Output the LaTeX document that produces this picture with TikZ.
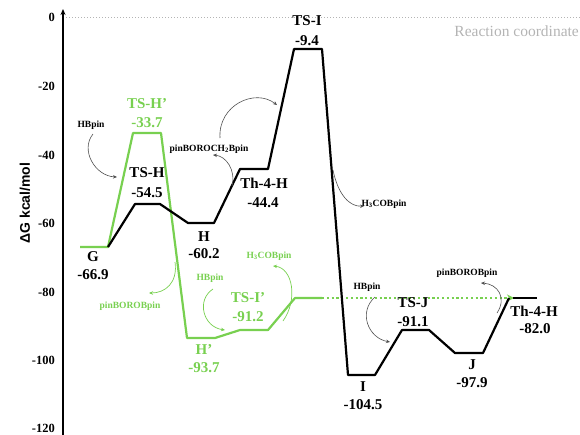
\documentclass[tikz,border=0pt]{standalone}
\usepackage{fontspec}
\setmainfont{Liberation Serif}
\setsansfont{Liberation Sans}
\usetikzlibrary{arrows.meta}
\definecolor{lgreen}{HTML}{78D050}
\definecolor{arcgray}{HTML}{505050}
\definecolor{refgray}{HTML}{B4B4B4}
\begin{document}
\begin{tikzpicture}[x=1pt,y=-1pt,
  lvl/.style={font=\bfseries\fontsize{15}{15}\selectfont, inner sep=0pt},
  sml/.style={font=\bfseries\fontsize{9.5}{9.5}\selectfont, inner sep=0pt},
  tick/.style={font=\bfseries\fontsize{12.5}{12.5}\selectfont, inner sep=0pt, anchor=east},
  prof/.style={line width=2.2pt, line join=round},
  garc/.style={draw=arcgray, line width=0.6pt, -{Stealth[length=4pt,width=3.5pt]}},
  greenarc/.style={draw=lgreen, line width=0.7pt, -{Stealth[length=4pt,width=3.5pt]}}
]
\useasboundingbox (0,0) rectangle (580,434);

% top dotted reference line and axis
\coordinate (d0) at (66,17);
\coordinate (d1) at (580,17);
\draw[refgray, line width=0.8pt, dash pattern=on 1pt off 2pt] (d0) -- (d1);
\node[anchor=east, inner sep=0pt, text=refgray, font=\fontsize{15.5}{15.5}\selectfont] (rc) at (579,31) {Reaction coordinate};

\coordinate (ax0) at (63,440);
\coordinate (ax1) at (63,9);
\draw[line width=1.8pt, -{Stealth[length=6pt,width=5pt]}] (ax0) -- (ax1);

\node[tick] (t0) at (55,17) {0};
\node[tick] (t20) at (55,86) {-20};
\node[tick] (t40) at (55,155) {-40};
\node[tick] (t60) at (55,223) {-60};
\node[tick] (t80) at (55,292) {-80};
\node[tick] (t100) at (55,360) {-100};
\node[tick] (t120) at (55,428) {-120};

\node[rotate=90, inner sep=0pt, font=\sffamily\bfseries\fontsize{14}{14}\selectfont] (ylab) at (25,203) {ΔG kcal/mol};

% green profile
\coordinate (gG0) at (80,247);
\coordinate (gG1) at (108,247);
\coordinate (gTH0) at (133,133);
\coordinate (gTH1) at (161,133);
\coordinate (gH0) at (187,338);
\coordinate (gH1) at (215,338);
\coordinate (gTI0) at (240,330);
\coordinate (gTI1) at (268,330);
\coordinate (gP0) at (295,298);
\coordinate (gP1) at (322,298);
\coordinate (gEnd) at (514,298);
\draw[prof, lgreen] (gG0) -- (gG1) -- (gTH0) -- (gTH1) -- (gH0) -- (gH1) -- (gTI0) -- (gTI1) -- (gP0) -- (gP1);
\draw[lgreen, line width=2.2pt, dash pattern=on 2.2pt off 2.6pt, -{Stealth[length=7pt,width=7pt]}] (gP1) -- (gEnd);

% black profile
\coordinate (bTH0) at (135,204);
\coordinate (bTH1) at (160,204);
\coordinate (bH0) at (188,223);
\coordinate (bH1) at (214,223);
\coordinate (bT40) at (240,169);
\coordinate (bT41) at (268,169);
\coordinate (bTI0) at (294,49);
\coordinate (bTI1) at (322,49);
\coordinate (bI0) at (348,375);
\coordinate (bI1) at (375,375);
\coordinate (bTJ0) at (402,330);
\coordinate (bTJ1) at (429,330);
\coordinate (bJ0) at (455,353);
\coordinate (bJ1) at (483,353);
\coordinate (bF0) at (509,298);
\coordinate (bF1) at (513,298);
\coordinate (bF2) at (537,298);
\draw[prof] (gG1) -- (bTH0) -- (bTH1) -- (bH0) -- (bH1) -- (bT40) -- (bT41) -- (bTI0) -- (bTI1) -- (bI0) -- (bI1) -- (bTJ0) -- (bTJ1) -- (bJ0) -- (bJ1) -- (bF0);
\draw[prof] (bF1) -- (bF2);

% level labels
\node[lvl, text=lgreen] (lTHp) at (147,104) {TS-H’};
\node[lvl, text=lgreen] (vTHp) at (147,123) {-33.7};
\node[lvl] (lTH) at (147,173) {TS-H};
\node[lvl] (vTH) at (147,193) {-54.5};
\node[lvl] (lG) at (93,257) {G};
\node[lvl] (vG) at (93,275) {-66.9};
\node[lvl] (lH) at (204,237) {H};
\node[lvl] (vH) at (204,254) {-60.2};
\node[lvl] (lT4) at (264,183) {Th-4-H};
\node[lvl] (vT4) at (263,203) {-44.4};
\node[lvl] (lTI) at (307,21) {TS-I};
\node[lvl] (vTI) at (307,41) {-9.4};
\node[lvl, text=lgreen] (lTIp) at (248,298) {TS-I’};
\node[lvl, text=lgreen] (vTIp) at (248,317) {-91.2};
\node[lvl, text=lgreen] (lHp) at (204,350) {H’};
\node[lvl, text=lgreen] (vHp) at (204,368) {-93.7};
\node[lvl] (lI) at (363,387) {I};
\node[lvl] (vI) at (363,405) {-104.5};
\node[lvl] (lTJ) at (413,303) {TS-J};
\node[lvl] (vTJ) at (413,322) {-91.1};
\node[lvl] (lJ) at (472,365) {J};
\node[lvl] (vJ) at (472,383) {-97.9};
\node[lvl] (lT4b) at (534,311) {Th-4-H};
\node[lvl] (vT4b) at (535,329) {-82.0};

% small species labels (black)
\node[sml] (s1) at (91,125) {HBpin};
\node[sml] (s2) at (209,149) {pinBOROCH\textsubscript{2}Bpin};
\node[sml] (s3) at (384,204) {H\textsubscript{3}COBpin};
\node[sml] (s4) at (367,287) {HBpin};
\node[sml] (s5) at (467,273) {pinBOROBpin};
% small species labels (green)
\node[sml, text=lgreen] (g1) at (130,306) {pinBOROBpin};
\node[sml, text=lgreen] (g2) at (210,278) {HBpin};
\node[sml, text=lgreen] (g3) at (269,256) {H\textsubscript{3}COBpin};

% curved arrows (black)
\coordinate (a1e) at (117,177);
\draw[garc] (93,134) .. controls (80,150) and (95,176) .. (a1e);
\coordinate (a2e) at (277,105);
\draw[garc] (220,138) .. controls (218,105) and (255,88) .. (a2e);
\coordinate (a3e) at (213,155);
\draw[garc] (232,186) .. controls (236,170) and (226,156) .. (a3e);
\coordinate (a4e) at (364,206);
\draw[garc] (333,170) .. controls (338,195) and (350,207) .. (a4e);
\coordinate (a5e) at (390,342);
\draw[garc] (375,297) .. controls (358,312) and (368,338) .. (a5e);
\coordinate (a6e) at (481,283);
\draw[garc] (497,313) .. controls (507,298) and (498,284) .. (a6e);

% curved arrows (green)
\coordinate (b1e) at (149,293);
\draw[greenarc] (175,262) .. controls (178,283) and (165,293) .. (b1e);
\coordinate (b2e) at (225,330);
\draw[greenarc] (213,289) .. controls (196,300) and (203,327) .. (b2e);
\coordinate (b3e) at (273,266);
\draw[greenarc] (283,321) .. controls (298,300) and (293,268) .. (b3e);
\end{tikzpicture}
\end{document}
